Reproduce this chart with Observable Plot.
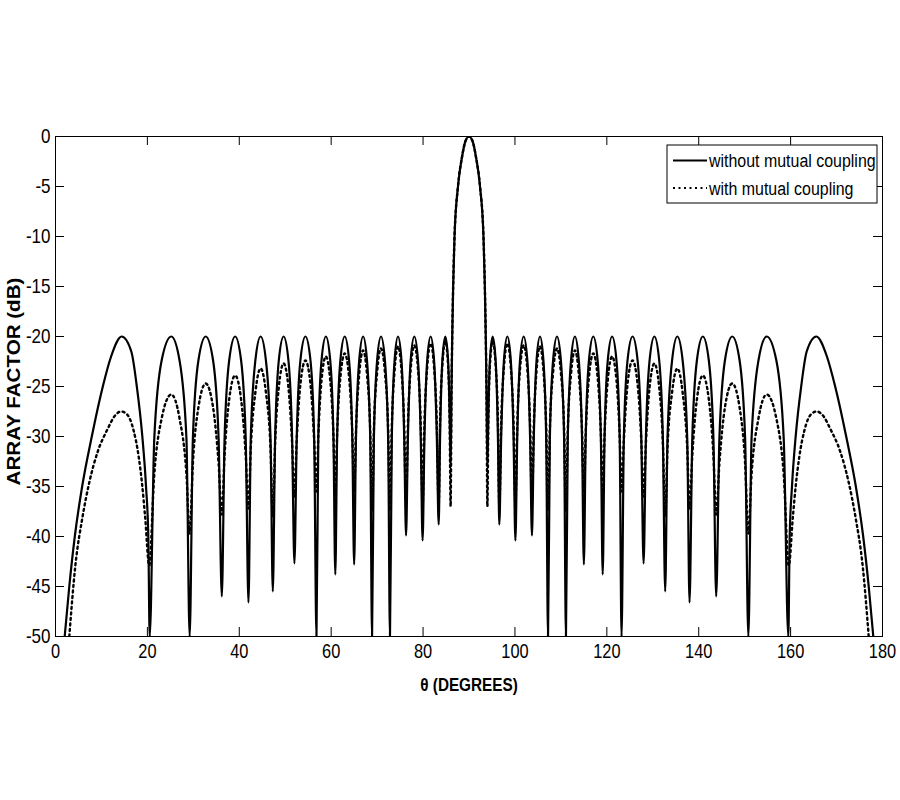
<!DOCTYPE html>
<html>
<head>
<meta charset="utf-8">
<script src="https://cdn.jsdelivr.net/npm/d3@7"></script>
<script src="https://cdn.jsdelivr.net/npm/@observablehq/plot@0.6"></script>
<style>
  html, body { margin: 0; padding: 0; background: #fff; }
  #chart { width: 900px; height: 800px; }
</style>
</head>
<body>
<div id="chart"></div>
<script>
// ---- data: [theta (deg), array factor (dB)] ----
const withoutCoupling = [
[2.0,-50],[3.0,-45],[4.2,-40],[5.8,-35],[7.9,-30],[10.3,-25],[12.1,-22],[14.4,-20],[16.5,-21.5],[17.7,-25],[18.9,-30],[19.7,-35],[20.2,-40],[20.5,-50],
[21.5,-30.2],[23.1,-22.4],[25.2,-20],[27.0,-22.4],[28.5,-30.2],[29.2,-50],
[29.9,-30.2],[31.1,-22.4],[32.7,-20],[34.3,-22.4],[35.5,-30.2],[36.2,-46],
[36.8,-30.2],[37.8,-22.4],[39.1,-20],[40.4,-22.4],[41.4,-30.2],[42.0,-46.6],
[42.5,-30.2],[43.5,-22.4],[44.65,-20],[45.8,-22.4],[46.8,-30.2],[47.3,-45.5],
[47.8,-30.2],[48.6,-22.4],[49.65,-20],[50.7,-22.4],[51.5,-30.2],[52.0,-42.7],
[52.5,-30.2],[53.3,-22.4],[54.4,-20],[55.5,-22.4],[56.3,-30.2],[56.8,-50],
[57.2,-30.2],[57.9,-22.4],[58.85,-20],[59.8,-22.4],[60.5,-30.2],[60.9,-43.8],
[61.3,-30.2],[62.0,-22.4],[62.95,-20],[63.9,-22.4],[64.6,-30.2],[65.0,-42.8],
[65.4,-30.2],[66.1,-22.4],[66.95,-20],[67.8,-22.4],[68.5,-30.2],[68.9,-50],
[69.3,-30.2],[70.0,-22.4],[70.85,-20],[71.7,-22.4],[72.4,-30.2],[72.8,-50],
[73.2,-30.2],[73.8,-22.4],[74.55,-20],[75.3,-22.4],[75.9,-30.2],[76.3,-39.9],
[76.7,-30.2],[77.3,-22.4],[78.1,-20],[78.9,-22.4],[79.5,-30.2],[79.9,-40.4],
[80.3,-30.2],[80.9,-22.4],[81.65,-20],[82.4,-22.4],[83.0,-30.2],[83.4,-38.8],
[83.7,-30.2],[84.2,-22.4],[84.85,-20],[85.45,-22.4],[85.8,-28],[86.0,-33],
[86.2,-25],[86.35,-20],[86.55,-15],[86.85,-10],[87.6,-5],[88.5,-2],[89.2,-0.5],[90.0,0],[90.8,-0.5],[91.5,-2],[92.4,-5],[93.15,-10],[93.45,-15],[93.65,-20],[93.8,-25],[94.0,-33],
[94.2,-28],[94.55,-22.4],[95.15,-20],[95.8,-22.4],[96.3,-30.2],[96.6,-38.8],
[97.0,-30.2],[97.6,-22.4],[98.35,-20],[99.1,-22.4],[99.7,-30.2],[100.1,-40.4],
[100.5,-30.2],[101.1,-22.4],[101.9,-20],[102.7,-22.4],[103.3,-30.2],[103.7,-39.9],
[104.1,-30.2],[104.7,-22.4],[105.45,-20],[106.2,-22.4],[106.8,-30.2],[107.2,-50],
[107.6,-30.2],[108.3,-22.4],[109.15,-20],[110.0,-22.4],[110.7,-30.2],[111.1,-50],
[111.5,-30.2],[112.2,-22.4],[113.05,-20],[113.9,-22.4],[114.6,-30.2],[115.0,-42.8],
[115.4,-30.2],[116.1,-22.4],[117.05,-20],[118.0,-22.4],[118.7,-30.2],[119.1,-43.8],
[119.5,-30.2],[120.2,-22.4],[121.15,-20],[122.1,-22.4],[122.8,-30.2],[123.2,-50],
[123.7,-30.2],[124.5,-22.4],[125.6,-20],[126.7,-22.4],[127.5,-30.2],[128.0,-42.7],
[128.5,-30.2],[129.3,-22.4],[130.35,-20],[131.4,-22.4],[132.2,-30.2],[132.7,-45.5],
[133.2,-30.2],[134.2,-22.4],[135.35,-20],[136.5,-22.4],[137.5,-30.2],[138.0,-46.6],
[138.6,-30.2],[139.6,-22.4],[140.9,-20],[142.2,-22.4],[143.2,-30.2],[143.8,-46],
[144.5,-30.2],[145.7,-22.4],[147.3,-20],[148.9,-22.4],[150.1,-30.2],[150.8,-50],
[151.5,-30.2],[153.0,-22.4],[154.8,-20],[156.9,-22.4],[158.5,-30.2],[159.5,-50],
[159.8,-40],[160.3,-35],[161.1,-30],[162.3,-25],[163.5,-21.5],[165.6,-20],[167.9,-22],[169.7,-25],[172.1,-30],[174.2,-35],[175.8,-40],[177.0,-45],[178.0,-50]
];

const withCoupling = [
[3.0,-50],[4.3,-43],[5.9,-38],[7.4,-34.5],[9.2,-31.5],[11.4,-29.2],[12.8,-28],[14.3,-27.5],[15.6,-27.8],[17.0,-29.4],[18.1,-32],[18.9,-35],[19.5,-38],[20.4,-42.9],
[21.5,-33.8],[23.1,-28.2],[25.2,-25.8],[27.0,-28.2],[28.5,-33.8],[29.2,-39.7],
[29.9,-32.7],[31.1,-27.1],[32.7,-24.7],[34.3,-27.1],[35.5,-32.7],[36.2,-37.8],
[36.8,-31.9],[37.8,-26.3],[39.1,-23.9],[40.4,-26.3],[41.4,-31.9],[42.0,-37.2],
[42.5,-31.2],[43.5,-25.6],[44.65,-23.2],[45.8,-25.6],[46.8,-31.2],[47.3,-38],
[47.8,-30.7],[48.6,-25.1],[49.65,-22.7],[50.7,-25.1],[51.5,-30.7],[52.0,-36],
[52.5,-30.4],[53.3,-24.8],[54.4,-22.4],[55.5,-24.8],[56.3,-30.4],[56.8,-35.5],
[57.2,-30],[57.9,-24.4],[58.85,-22],[59.8,-24.4],[60.5,-30],[60.9,-35.9],
[61.3,-29.7],[62.0,-24.1],[62.95,-21.7],[63.9,-24.1],[64.6,-29.7],[65.0,-35.5],
[65.4,-29.4],[66.1,-23.8],[66.95,-21.4],[67.8,-23.8],[68.5,-29.4],[68.9,-37.4],
[69.3,-29.2],[70.0,-23.6],[70.85,-21.2],[71.7,-23.6],[72.4,-29.2],[72.8,-37.4],
[73.2,-29],[73.8,-23.4],[74.55,-21],[75.3,-23.4],[75.9,-29],[76.3,-36.7],
[76.7,-28.9],[77.3,-23.3],[78.1,-20.9],[78.9,-23.3],[79.5,-28.9],[79.9,-36.9],
[80.3,-28.7],[80.9,-23.1],[81.65,-20.7],[82.4,-23.1],[83.0,-28.7],[83.4,-37],
[83.7,-28.5],[84.2,-22.9],[84.85,-20.5],[85.45,-22.9],[85.8,-29],[86.0,-37],
[86.2,-25],[86.35,-20],[86.55,-15],[86.85,-10],[87.6,-5],[88.5,-2],[89.2,-0.5],[90.0,0],[90.8,-0.5],[91.5,-2],[92.4,-5],[93.15,-10],[93.45,-15],[93.65,-20],[93.8,-25],[94.0,-37],
[94.2,-29],[94.55,-22.9],[95.15,-20.5],[95.8,-22.9],[96.3,-28.5],[96.6,-37],
[97.0,-28.7],[97.6,-23.1],[98.35,-20.7],[99.1,-23.1],[99.7,-28.7],[100.1,-36.9],
[100.5,-28.9],[101.1,-23.3],[101.9,-20.9],[102.7,-23.3],[103.3,-28.9],[103.7,-36.7],
[104.1,-29],[104.7,-23.4],[105.45,-21],[106.2,-23.4],[106.8,-29],[107.2,-37.4],
[107.6,-29.2],[108.3,-23.6],[109.15,-21.2],[110.0,-23.6],[110.7,-29.2],[111.1,-37.4],
[111.5,-29.4],[112.2,-23.8],[113.05,-21.4],[113.9,-23.8],[114.6,-29.4],[115.0,-35.5],
[115.4,-29.7],[116.1,-24.1],[117.05,-21.7],[118.0,-24.1],[118.7,-29.7],[119.1,-35.9],
[119.5,-30],[120.2,-24.4],[121.15,-22],[122.1,-24.4],[122.8,-30],[123.2,-35.5],
[123.7,-30.4],[124.5,-24.8],[125.6,-22.4],[126.7,-24.8],[127.5,-30.4],[128.0,-36],
[128.5,-30.7],[129.3,-25.1],[130.35,-22.7],[131.4,-25.1],[132.2,-30.7],[132.7,-38],
[133.2,-31.2],[134.2,-25.6],[135.35,-23.2],[136.5,-25.6],[137.5,-31.2],[138.0,-37.2],
[138.6,-31.9],[139.6,-26.3],[140.9,-23.9],[142.2,-26.3],[143.2,-31.9],[143.8,-37.8],
[144.5,-32.7],[145.7,-27.1],[147.3,-24.7],[148.9,-27.1],[150.1,-32.7],[150.8,-39.7],
[151.5,-33.8],[153.0,-28.2],[154.8,-25.8],[156.9,-28.2],[158.5,-33.8],[159.6,-42.9],
[160.5,-38],[161.1,-35],[161.9,-32],[163.0,-29.4],[164.4,-27.8],[165.7,-27.5],[167.2,-28],[168.6,-29.2],[170.8,-31.5],[172.6,-34.5],[174.1,-38],[175.7,-43],[177.0,-50]
];

const xTicks = [0, 20, 40, 60, 80, 100, 120, 140, 160, 180];
const yTicks = [0, -5, -10, -15, -20, -25, -30, -35, -40, -45, -50];
const xTitle = "θ (DEGREES)";
const yTitle = "ARRAY FACTOR (dB)";
const seriesNames = ["without mutual coupling", "with mutual coupling"];

// ---- chart ----
const FONT = "'Liberation Sans', Arial, Helvetica, sans-serif";
const W = 900, H = 800, ML = 55, MR = 18, MT = 136, MB = 164;
const innerW = W - ML - MR, innerH = H - MT - MB, TICK = 9;
const DOTS = "2,3.5";

const chart = Plot.plot({
  width: W, height: H,
  marginLeft: ML, marginRight: MR, marginTop: MT, marginBottom: MB,
  style: {fontFamily: FONT, background: "#fff", color: "#000"},
  x: {domain: [0, 180]},
  y: {domain: [-50, 0]},
  marks: [
    Plot.line(withCoupling, {x: d => d[0], y: d => d[1], curve: "monotone-x", stroke: "#000", strokeWidth: 2.4, strokeDasharray: DOTS, clip: true}),
    Plot.line(withoutCoupling, {x: d => d[0], y: d => d[1], curve: "monotone-x", stroke: "#000", strokeWidth: 2.2, clip: true}),
    Plot.frame({stroke: "#000", strokeWidth: 1}),
    Plot.ruleX(xTicks, {x: d => d, insetTop: innerH - TICK, stroke: "#000"}),
    Plot.ruleX(xTicks, {x: d => d, insetBottom: innerH - TICK, stroke: "#000"}),
    Plot.ruleY(yTicks, {y: d => d, insetRight: innerW - TICK, stroke: "#000"}),
    Plot.ruleY(yTicks, {y: d => d, insetLeft: innerW - TICK, stroke: "#000"}),
    Plot.axisX({ticks: xTicks, tickSize: 0, tickPadding: 7, fontSize: 20, tickFormat: d => String(d), label: null}),
    Plot.axisY({ticks: yTicks, tickSize: 0, tickPadding: 5, fontSize: 20, tickFormat: d => String(d), label: null}),
    Plot.text([xTitle], {frameAnchor: "bottom", dy: 54, text: d => d, textAnchor: "middle", fontSize: 18, fontWeight: "bold", fill: "#000"}),
    Plot.text([yTitle], {frameAnchor: "left", dx: -41, dy: -5, rotate: -90, text: d => d, textAnchor: "middle", fontSize: 20.6, fontWeight: "bold", fill: "#000"})
  ]
});

document.getElementById("chart").appendChild(chart);

// horizontally condensed lettering like the reference
const svg = d3.select(chart);
function addScale(sel, s) {
  sel.each(function () {
    const t = this.getAttribute("transform") || "";
    this.setAttribute("transform", t + " " + s);
  });
}
addScale(svg.selectAll('g[aria-label="x-axis tick label"] text'), "scale(0.82,1)");
addScale(svg.selectAll('g[aria-label="y-axis tick label"] text'), "scale(0.85,1)");
addScale(svg.selectAll("text").filter(function () { return this.textContent === xTitle; }), "scale(0.85,1)");
addScale(svg.selectAll("text").filter(function () { return this.textContent === yTitle; }), "scale(1,0.85)");

// legend (top right, inside the axes)
const lg = svg.append("g").attr("aria-label", "legend");
const bx = 667, by = 145, bw = 210, bh = 58;
lg.append("rect").attr("x", bx).attr("y", by).attr("width", bw).attr("height", bh)
  .attr("fill", "#fff").attr("stroke", "#000").attr("stroke-width", 1);
const rows = [{y: 160.5, dash: null}, {y: 188, dash: DOTS}];
rows.forEach((r, i) => {
  lg.append("line").attr("x1", 673).attr("x2", 707).attr("y1", r.y).attr("y2", r.y)
    .attr("stroke", "#000").attr("stroke-width", 2).attr("stroke-dasharray", r.dash);
  lg.append("text").attr("transform", `translate(709,${r.y + 6.5}) scale(0.84,1)`)
    .attr("text-anchor", "start")
    .attr("font-family", FONT).attr("font-size", 19).attr("fill", "#000")
    .text(seriesNames[i]);
});
</script>
</body>
</html>
